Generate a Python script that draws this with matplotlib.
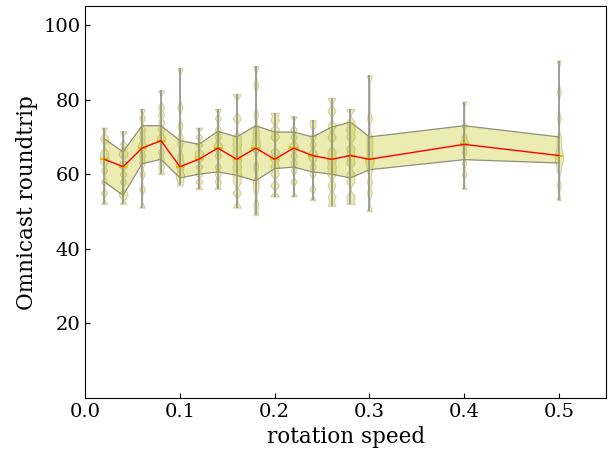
import matplotlib
matplotlib.use("Agg")
import matplotlib.pyplot as plt
import numpy as np

plt.rcParams['font.family'] = ['DejaVu Serif']

speeds = [0.02, 0.04, 0.06, 0.08, 0.10, 0.12, 0.14, 0.16, 0.18, 0.20,
          0.22, 0.24, 0.26, 0.28, 0.30, 0.40, 0.50]
medians = [64, 62, 67, 69, 62, 64, 67, 64, 67, 64, 67, 65, 64, 65, 64, 68, 65]
upper = [69.5, 66, 73, 73, 69, 68, 71.5, 70, 73, 71.3, 71.3, 70, 72.6, 74, 70, 73, 70]
lower = [58, 54.3, 62.8, 64, 59, 60, 60.6, 59.7, 58.2, 61.5, 61.9, 60.6, 60, 59, 61.2, 63.9, 63]

samples = [
    [52, 55, 58, 61, 63, 64, 65, 66, 69, 70, 72.5],
    [52, 54, 55, 58, 60, 62, 63, 65, 66, 68, 71.5],
    [51, 56, 60, 63, 65, 67, 68, 70, 72, 75, 77.5],
    [60, 62, 64, 66, 69, 70, 72, 74, 76, 78, 82.5],
    [57, 59, 60, 62, 63, 65, 68, 70, 73, 78, 88.5],
    [56, 58, 60, 62, 64, 65, 66, 68, 70, 72.5],
    [56, 58, 60, 62, 65, 67, 68, 70, 72, 75, 77.5],
    [51, 55, 58, 60, 62, 64, 66, 68, 70, 75, 81.5],
    [49, 52, 56, 58, 62, 67, 68, 70, 72, 76, 84, 89],
    [54, 57, 60, 62, 64, 66, 70, 72, 74.5, 76.5],
    [54, 58, 61, 63, 65, 67, 68, 70, 72, 75.5],
    [53, 56, 60, 62, 64, 65, 66, 68, 70, 73, 74.5],
    [51.5, 54, 57, 60, 62, 64, 66, 70, 73, 77, 80.5],
    [52, 54, 58, 60, 63, 65, 67, 70, 72, 74, 77.5],
    [50, 55, 58, 61, 63, 64, 66, 68, 70, 75, 86.5],
    [56, 60, 63, 66, 68, 68.5, 70, 73, 79.5],
    [53, 57, 61, 63, 64, 65, 66, 68, 70, 75, 82, 90.5],
]

fig = plt.figure(figsize=(6.13, 4.62), dpi=100)
ax = fig.add_axes([0.139, 0.139, 0.850, 0.847])

ax.fill_between(speeds, lower, upper, facecolor='#bfbf00', alpha=0.3,
                edgecolor='none', zorder=1)
ax.plot(speeds, upper, color='#8f8f7a', linewidth=0.9, zorder=1.5)
ax.plot(speeds, lower, color='#8f8f7a', linewidth=0.9, zorder=1.5)

vp = ax.violinplot(samples, positions=speeds, widths=0.009, showextrema=False,
                   bw_method=0.09)
for body in vp['bodies']:
    body.set_facecolor('#bfbf00')
    body.set_edgecolor('#8a8a40')
    body.set_alpha(0.3)
    body.set_linewidth(0.8)
    body.set_zorder(2)

mins = [min(s) for s in samples]
maxs = [max(s) for s in samples]
ax.vlines(speeds, mins, maxs, color='#8c8c8c', linewidth=1.1, zorder=3)
ax.hlines(medians, np.array(speeds) - 0.0045, np.array(speeds) + 0.0045,
          color='#c8c800', linewidth=1.5, zorder=4)
ax.plot(speeds, medians, color='red', linewidth=1.0, zorder=5)

ax.set_xlim(0, 0.55)
ax.set_ylim(0, 105)
ax.set_xticks([0.0, 0.1, 0.2, 0.3, 0.4, 0.5])
ax.set_yticks([20, 40, 60, 80, 100])
ax.tick_params(direction='in', labelsize=14, top=False, right=False)
ax.set_xlabel('rotation speed', fontsize=15.5)
ax.set_ylabel('Omnicast roundtrip', fontsize=15.5)

fig.savefig('out.png', dpi=100)
